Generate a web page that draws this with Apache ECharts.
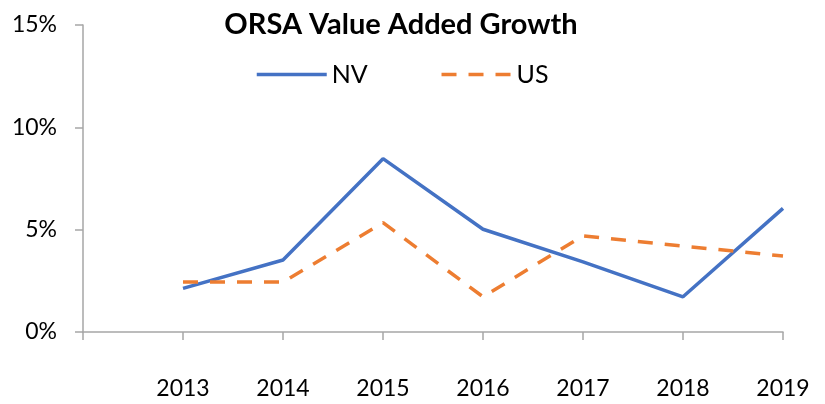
<!DOCTYPE html>
<html>
<head>
<meta charset="utf-8">
<script src="https://cdn.jsdelivr.net/npm/echarts@6/dist/echarts.min.js"></script>
<style>
  html, body { margin: 0; padding: 0; background: #fff; }
  #chart { width: 825px; height: 404px; }
</style>
</head>
<body>
<div id="chart"></div>
<script>
// data (percent)
const years = [2013, 2014, 2015, 2016, 2017, 2018, 2019];
const nv = [2.13, 3.52, 8.47, 5.02, 3.43, 1.72, 6.04];
const us = [2.44, 2.44, 5.34, 1.72, 4.70, 4.20, 3.71];
const yTicks = [0, 5, 10, 15];

const font = 'Lato, "Open Sans", sans-serif';
const axisGray = '#A6A6A6';

const chart = echarts.init(document.getElementById('chart'), null, { renderer: 'canvas' });

chart.setOption({
  animation: false,
  title: {
    text: 'ORSA Value Added Growth',
    left: 396,
    textAlign: 'center',
    top: 5,
    textStyle: { fontFamily: font, fontWeight: 'bold', fontSize: 29, color: '#000' }
  },
  legend: {
    left: 250,
    top: 57,
    itemWidth: 70,
    itemHeight: 14,
    itemGap: 72,
    itemStyle: { opacity: 0 },
    textStyle: { fontFamily: font, fontSize: 25, color: '#000' },
    data: [
      { name: 'NV', lineStyle: { width: 3.5 } },
      { name: 'US', lineStyle: { width: 3.5 } }
    ]
  },
  grid: { left: 83, right: 42, top: 25, bottom: 72, containLabel: false },
  xAxis: {
    type: 'value',
    min: 2012,
    max: 2019,
    interval: 1,
    splitLine: { show: false },
    axisLine: { show: true, lineStyle: { color: axisGray, width: 1.5 } },
    axisTick: { show: true, length: 8, lineStyle: { color: axisGray, width: 1.5 } },
    axisLabel: {
      margin: 45,
      fontFamily: font,
      fontSize: 23,
      color: '#000',
      formatter: v => (years.indexOf(v) >= 0 ? String(v) : '')
    }
  },
  yAxis: {
    type: 'value',
    min: yTicks[0],
    max: yTicks[yTicks.length - 1],
    interval: 5,
    splitLine: { show: false },
    axisLine: { show: true, lineStyle: { color: axisGray, width: 1.5 } },
    axisTick: { show: true, length: 8, lineStyle: { color: axisGray, width: 1.5 } },
    axisLabel: {
      margin: 26,
      fontFamily: font,
      fontSize: 23,
      color: '#000',
      formatter: '{value}%'
    }
  },
  series: [
    {
      name: 'NV',
      type: 'line',
      symbol: 'none',
      color: '#4472C4',
      lineStyle: { width: 3.5, color: '#4472C4' },
      data: years.map((y, i) => [y, nv[i]])
    },
    {
      name: 'US',
      type: 'line',
      symbol: 'none',
      color: '#ED7D31',
      lineStyle: { width: 3.5, color: '#ED7D31', type: [15, 12] },
      data: years.map((y, i) => [y, us[i]])
    }
  ]
});
</script>
</body>
</html>
